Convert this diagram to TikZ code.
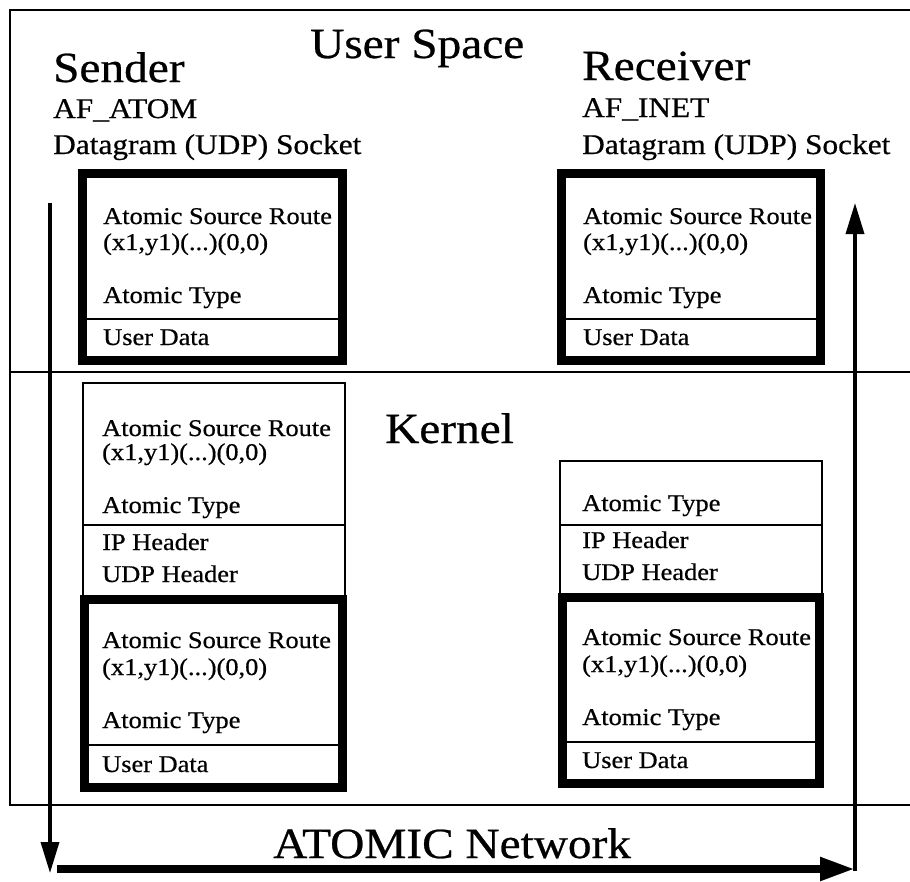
\documentclass[tikz,border=0pt]{standalone}
\usepackage{fontspec}
\setmainfont{Liberation Serif}[FakeStretch=1.1,FakeBold=0.6]
\usetikzlibrary{arrows.meta}

\tikzset{
  bigtext/.style={anchor=base west, inner sep=0pt, font=\fontsize{43}{48}\selectfont},
  midtext/.style={anchor=base west, inner sep=0pt, font=\fontsize{28.5}{32}\selectfont},
  fieldtext/.style={anchor=base west, inner sep=0pt, font=\fontsize{24}{28}\selectfont},
  rule/.style={line width=2.5pt},
  heavybox/.style={line width=9pt},
  flow/.style={line width=3.5pt, -{Triangle[length=31pt,width=18pt]}},
  netflow/.style={line width=8pt, -{Triangle[length=35pt,width=22pt]}},
}

\begin{document}
\begin{tikzpicture}[x=1pt,y=-1pt]
\useasboundingbox (0,0) rectangle (910,881);

% outer frame and the user/kernel boundary
\draw[rule] (910,10) -- (10,10) -- (10,805) -- (910,805);
\draw[rule] (10,372) -- (910,372);

% headings
\node[bigtext] (userspace) at (310,58) {User Space};
\node[bigtext] (sender) at (53,82) {Sender};
\node[midtext] (sfam) at (53,118) {AF\_ATOM};
\node[midtext] (ssock) at (53,154) {Datagram (UDP) Socket};
\node[bigtext] (receiver) at (582,80) {Receiver};
\node[midtext] (rfam) at (582,117) {AF\_INET};
\node[midtext] (rsock) at (582,154) {Datagram (UDP) Socket};
\node[bigtext] (kernel) at (385,443) {Kernel};
\node[bigtext] (network) at (273,858) {ATOMIC Network};

% sender packet in user space
\draw[heavybox] (82.5,173.5) rectangle (342.5,360.5);
\draw[rule] (87,319) -- (338,319);
\node[fieldtext] (su1) at (103,224) {Atomic Source Route};
\node[fieldtext] (su2) at (103,250) {(x1,y1)(...)(0,0)};
\node[fieldtext] (su3) at (103,303) {Atomic Type};
\node[fieldtext] (su4) at (103,345) {User Data};

% receiver packet in user space
\draw[heavybox] (561.5,173.5) rectangle (820.5,360.5);
\draw[rule] (566,319) -- (816,319);
\node[fieldtext] (ru1) at (583,224) {Atomic Source Route};
\node[fieldtext] (ru2) at (583,250) {(x1,y1)(...)(0,0)};
\node[fieldtext] (ru3) at (583,303) {Atomic Type};
\node[fieldtext] (ru4) at (583,345) {User Data};

% sender packet in the kernel
\draw[rule] (83,383) rectangle (345,599.5);
\draw[rule] (83,525) -- (345,525);
\draw[heavybox] (84.5,599.5) rectangle (342.5,787);
\draw[rule] (89,745) -- (338,745);
\node[fieldtext] (sk1) at (102,436) {Atomic Source Route};
\node[fieldtext] (sk2) at (102,460) {(x1,y1)(...)(0,0)};
\node[fieldtext] (sk3) at (102,513) {Atomic Type};
\node[fieldtext] (sk4) at (102,550) {IP Header};
\node[fieldtext] (sk5) at (102,582) {UDP Header};
\node[fieldtext] (sk6) at (102,648) {Atomic Source Route};
\node[fieldtext] (sk7) at (102,675) {(x1,y1)(...)(0,0)};
\node[fieldtext] (sk8) at (102,728) {Atomic Type};
\node[fieldtext] (sk9) at (102,772) {User Data};

% receiver packet in the kernel
\draw[rule] (560,461) rectangle (822,597);
\draw[rule] (560,525) -- (822,525);
\draw[heavybox] (562.5,597) rectangle (819,783.5);
\draw[rule] (567,742) -- (815,742);
\node[fieldtext] (rk3) at (582,511) {Atomic Type};
\node[fieldtext] (rk4) at (582,548) {IP Header};
\node[fieldtext] (rk5) at (582,580) {UDP Header};
\node[fieldtext] (rk6) at (582,645) {Atomic Source Route};
\node[fieldtext] (rk7) at (582,672) {(x1,y1)(...)(0,0)};
\node[fieldtext] (rk8) at (582,725) {Atomic Type};
\node[fieldtext] (rk9) at (582,768) {User Data};

% path of the datagram: down, across the network, up
\coordinate (downstart) at (50,203);
\coordinate (downend) at (50,873);
\coordinate (netstart) at (57,869);
\coordinate (netend) at (855,869);
\coordinate (upstart) at (855,871);
\coordinate (upend) at (855,203);
\draw[flow] (downstart) -- (downend);
\draw[netflow] (netstart) -- (netend);
\draw[flow] (upstart) -- (upend);
\end{tikzpicture}
\end{document}
